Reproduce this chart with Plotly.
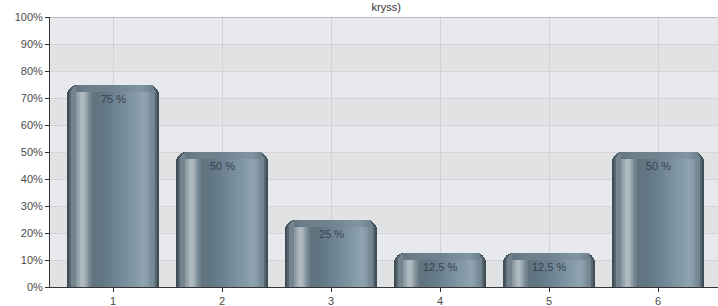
import plotly.graph_objects as go

categories = [1, 2, 3, 4, 5, 6]
tick_labels = ["1", "2", "3", "4", "5", "6"]
values = [75, 50, 25, 12.5, 12.5, 50]
value_labels = ["75 %", "50 %", "25 %", "12,5 %", "12,5 %", "50 %"]
title_text = "kryss)"

PX = 109.0          # pixels per category unit
BAR_PX = 92.0       # bar width in pixels
CAP = 2.6           # height of the bar top cap, in axis units
u = lambda p: p / PX

def hex2rgb(h):
    h = h.lstrip("#")
    return tuple(int(h[i:i + 2], 16) for i in (0, 2, 4))

def lerp(c1, c2, t):
    a, b = hex2rgb(c1), hex2rgb(c2)
    return "rgb(%d,%d,%d)" % tuple(round(a[i] + (b[i] - a[i]) * t) for i in range(3))

profile = [(8, "#7f8e98"), (12, "#9aa7ae"), (15, "#b6c0c5"), (18, "#a5b1b8"),
           (22, "#7b8d98"), (26, "#61747f"), (35, "#617683"), (50, "#6f8593"),
           (65, "#8096a3"), (77, "#8fa3b0"), (82, "#8497a4"), (86, "#6c7f8c")]
cap_profile = [(8, "#627480"), (20, "#6c7e89"), (45, "#6f838f"), (75, "#8196a2"),
               (86, "#6c7f8c")]

def color_at(p, prof):
    for (p1, c1), (p2, c2) in zip(prof, prof[1:]):
        if p1 <= p <= p2:
            return lerp(c1, c2, (p - p1) / (p2 - p1))
    return prof[-1][1]

fig = go.Figure()

# layered, rounded bar bodies (cylinder look)
layers = [(0, 92, "#3e4d58", 10), (2, 90, "#56676f", 9), (4, 88, "#748590", 8)]
for left, right, col, r in layers:
    fig.add_trace(go.Bar(x=categories, y=values, width=u(right - left),
                         offset=u(left - BAR_PX / 2), marker_color=col,
                         marker_cornerradius=r, marker_line_width=0,
                         hoverinfo="skip", showlegend=False))

p = 9
while p < 84:
    fig.add_trace(go.Bar(x=categories, y=values, width=u(2.6),
                         offset=u(p - BAR_PX / 2), marker_color=color_at(p + 1, profile),
                         marker_line_width=0, hoverinfo="skip", showlegend=False))
    p += 2

# top cap (hides the highlight near the rounded top)
p = 9
while p < 84:
    fig.add_trace(go.Bar(x=categories, y=[CAP] * len(values), base=[v - CAP for v in values],
                         width=u(2.6), offset=u(p - BAR_PX / 2),
                         marker_color=color_at(p + 1, cap_profile),
                         marker_line_width=0, hoverinfo="skip", showlegend=False))
    p += 2

annotations = [dict(x=c, y=v, xref="x", yref="y", text=t, showarrow=False,
                    yanchor="middle", yshift=-14,
                    font=dict(family="Liberation Sans, Arial", size=11, color="#37444e"))
               for c, v, t in zip(categories, values, value_labels)]

shapes = []
for k in range(0, 100, 20):
    shapes.append(dict(type="rect", xref="paper", yref="y", x0=0, x1=1, y0=k, y1=k + 10,
                       fillcolor="#e1e2e4", line_width=0, layer="below"))
shapes.append(dict(type="line", xref="paper", yref="y", x0=0, x1=1, y0=100, y1=100,
                   line=dict(color="#8c8c8c", width=1)))

fig.update_layout(
    width=718, height=306,
    margin=dict(l=50, r=0, t=17, b=19),
    paper_bgcolor="white", plot_bgcolor="#e7e9ec",
    barmode="overlay", bargap=0,
    shapes=shapes, annotations=annotations,
    title=dict(text=title_text, x=0.538, xanchor="center", y=0.978, yanchor="middle",
               font=dict(family="Liberation Sans, Arial", size=11, color="#333333")),
    font=dict(family="Liberation Sans, Arial", size=11, color="#4a4a4a"),
)
fig.update_xaxes(range=[1 - 63 / PX, 1 + 605 / PX], tickvals=categories, ticktext=tick_labels,
                 showgrid=True, gridcolor="#d0d3d6", gridwidth=1, zeroline=False,
                 showline=True, linecolor="#333333", linewidth=1,
                 ticks="outside", ticklen=4, tickcolor="#333333",
                 tickfont=dict(size=11, color="#4a4a4a"))
fig.update_yaxes(range=[0, 100], dtick=10, ticksuffix="%", showgrid=True,
                 gridcolor="#d2d4d7", gridwidth=1, zeroline=False,
                 showline=True, linecolor="#333333", linewidth=1,
                 ticks="outside", ticklen=4, tickcolor="#333333",
                 tickfont=dict(size=11, color="#4a4a4a"))

fig.write_html("out.html", config={"displayModeBar": False},
               post_script="document.body.style.margin='0';document.body.style.padding='0';"
                           "document.documentElement.style.overflow='hidden';")
